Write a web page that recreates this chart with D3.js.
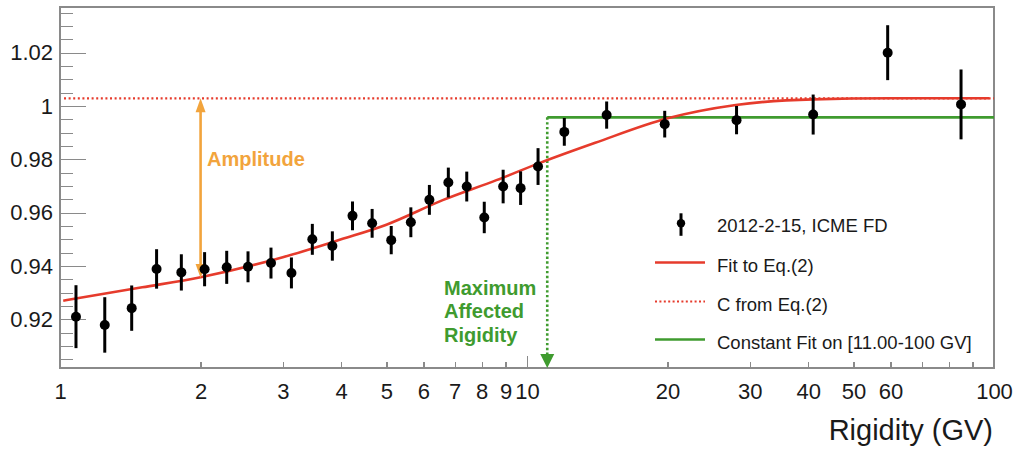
<!DOCTYPE html>
<meta charset="utf-8">
<style>
    body { margin: 0; background: #fff; }
    svg { font-family: "Liberation Sans", Arial, Helvetica, sans-serif; }
    .axis path, .axis line { stroke: #8a8a8a; stroke-width: 1.3; shape-rendering: crispEdges; }
    .axis text { font-size: 22px; fill: #1a1a1a; }
    .lbl { font-weight: bold; font-size: 20px; }
    .legend text { font-size: 18.5px; fill: #1a1a1a; }
</style>
<body>
<script src="https://d3js.org/d3.v7.min.js"></script>
<script>
    // data points
    const rigidity = [1.082, 1.247, 1.424, 1.61, 1.819, 2.04, 2.275, 2.527, 2.83, 3.13, 3.47, 3.83, 4.23, 4.66, 5.12,
        5.64, 6.18, 6.785, 7.43, 8.1, 8.89, 9.69, 10.56, 12.02, 14.81, 19.72, 28.1, 41.0, 59.2, 85.0];
    const ratio = [0.921, 0.9179, 0.9242, 0.9389, 0.9376, 0.9388, 0.9395, 0.9397, 0.9411, 0.9374, 0.950, 0.9475, 0.9588,
        0.956, 0.9497, 0.9564, 0.9648, 0.9713, 0.9698, 0.9582, 0.9698, 0.9692, 0.9773, 0.9903, 0.9966, 0.9932, 0.9947,
        0.9968, 1.020, 1.0006];
    const ratioErr = [0.0118, 0.0104, 0.0085, 0.0074, 0.0068, 0.0064, 0.0062, 0.0058, 0.0058, 0.0058, 0.0058, 0.0055,
        0.0054, 0.0054, 0.0053, 0.0056, 0.0056, 0.0056, 0.0056, 0.0059, 0.0063, 0.0063, 0.0069, 0.0052, 0.0051, 0.005,
        0.0053, 0.0075, 0.0103, 0.0131];

    // fit curve, sampled from the figure
    const fitR = [1.016, 1.5, 2, 3, 4, 5, 6.6, 8.6, 10.6, 14, 20, 28, 41, 60, 97.7];
    const fitV = [0.927, 0.932, 0.9358, 0.9433, 0.950, 0.9555, 0.9647, 0.9722, 0.9785, 0.9862, 0.9954, 1.0004, 1.0025,
        1.0029, 1.0029];

    const cValue = 1.0029;
    const constFit = 0.99575;
    const constFrom = 11.05;
    const ampR = 2;
    const ampLow = 0.9355;

    const yMajor = [0.92, 0.94, 0.96, 0.98, 1, 1.02];
    const yMinor = [0.905, 0.91, 0.915, 0.925, 0.93, 0.935, 0.945, 0.95, 0.955, 0.965, 0.97, 0.975, 0.985, 0.99, 0.995,
        1.005, 1.01, 1.015, 1.025, 1.03, 1.035];
    const xTicks = [1, 2, 3, 4, 5, 6, 7, 8, 9, 10, 20, 30, 40, 50, 60, 70, 80, 90, 100];
    const xLabels = [1, 2, 3, 4, 5, 6, 7, 8, 9, 10, 20, 30, 40, 50, 60, 100];

    const legendLabels = ["2012-2-15, ICME FD", "Fit to Eq.(2)", "C from Eq.(2)", "Constant Fit on [11.00-100 GV]"];

    const red = "#e63b2c", orange = "#f2a43c", green = "#3f9b2f";

    const width = 1016, height = 451;
    const margin = {top: 7, right: 22, bottom: 83, left: 60};

    const svg = d3.select("body").append("svg")
        .attr("width", width)
        .attr("height", height);

    const x = d3.scaleLog().domain([1, 100]).range([margin.left, width - margin.right]);
    const y = d3.scaleLinear().domain([0.90175, 1.03713]).range([height - margin.bottom, margin.top]);

    // frame
    svg.append("rect")
        .attr("x", margin.left).attr("y", margin.top)
        .attr("width", x(100) - x(1)).attr("height", y(0.90175) - y(1.03713))
        .attr("fill", "none").attr("stroke", "#8a8a8a").attr("stroke-width", 1.3)
        .style("shape-rendering", "crispEdges");

    // y axis
    svg.append("g").attr("class", "axis")
        .attr("transform", "translate(" + margin.left + ",0)")
        .call(d3.axisLeft(y).tickValues(yMinor).tickSize(-13).tickSizeOuter(0).tickFormat(""));
    svg.append("g").attr("class", "axis")
        .attr("transform", "translate(" + margin.left + ",0)")
        .call(d3.axisLeft(y).tickValues(yMajor).tickSize(-26).tickSizeOuter(0).tickPadding(7)
            .tickFormat(d => d3.format("")(+d.toFixed(2))));

    // x axis
    const xAxis = svg.append("g").attr("class", "axis")
        .attr("transform", "translate(0," + y(0.90175) + ")")
        .call(d3.axisBottom(x).tickValues(xTicks).tickSize(-6).tickSizeOuter(0).tickPadding(15)
            .tickFormat(d => xLabels.includes(d) ? d : ""));
    xAxis.selectAll(".tick line").filter(d => d === 10).attr("y2", -12);
    xAxis.selectAll(".tick text").attr("dy", "0.71em");

    svg.append("text")
        .attr("x", 993).attr("y", 440)
        .attr("text-anchor", "end")
        .style("font-size", "29px").style("fill", "#1a1a1a")
        .text("Rigidity (GV)");

    // C line
    svg.append("line")
        .attr("x1", x(1.02)).attr("x2", x(100))
        .attr("y1", y(cValue)).attr("y2", y(cValue))
        .attr("stroke", red).attr("stroke-width", 2.2).attr("stroke-dasharray", "2,2.6");

    // constant fit
    svg.append("line")
        .attr("x1", x(constFrom)).attr("x2", x(100))
        .attr("y1", y(constFit)).attr("y2", y(constFit))
        .attr("stroke", green).attr("stroke-width", 2.6);

    // maximum affected rigidity arrow
    svg.append("line")
        .attr("x1", x(constFrom)).attr("x2", x(constFrom))
        .attr("y1", y(constFit)).attr("y2", y(0.90175) - 10)
        .attr("stroke", green).attr("stroke-width", 2.6).attr("stroke-dasharray", "2.4,2.4");
    const gx = x(constFrom), gy = y(0.90175);
    svg.append("path")
        .attr("d", `M${gx - 7},${gy - 14}L${gx + 7},${gy - 14}L${gx},${gy}Z`)
        .attr("fill", green);

    // fit curve
    const fitLine = d3.line()
        .x((d, i) => x(fitR[i]))
        .y(d => y(d))
        .curve(d3.curveMonotoneX);
    svg.append("path")
        .datum(fitV)
        .attr("d", fitLine)
        .attr("fill", "none").attr("stroke", red).attr("stroke-width", 2.6);

    // amplitude arrow
    const ax = x(ampR), aTop = y(cValue), aBot = y(ampLow);
    svg.append("line")
        .attr("x1", ax).attr("x2", ax)
        .attr("y1", aTop + 8).attr("y2", aBot - 8)
        .attr("stroke", orange).attr("stroke-width", 2.6);
    svg.append("path")
        .attr("d", `M${ax - 5},${aTop + 14}L${ax},${aTop}L${ax + 5},${aTop + 14}Z`)
        .attr("fill", orange);
    svg.append("path")
        .attr("d", `M${ax - 5},${aBot - 14}L${ax},${aBot}L${ax + 5},${aBot - 14}Z`)
        .attr("fill", orange);

    svg.append("text").attr("class", "lbl")
        .attr("x", 207).attr("y", 166)
        .attr("fill", orange)
        .text("Amplitude");

    const maxLbl = svg.append("text").attr("class", "lbl")
        .attr("x", 444).attr("y", 295)
        .attr("fill", green);
    ["Maximum", "Affected", "Rigidity"].forEach((t, i) => {
        maxLbl.append("tspan").attr("x", 444).attr("dy", i === 0 ? 0 : 23.3).text(t);
    });

    // data points
    const pts = svg.append("g").selectAll("g")
        .data(ratio)
        .enter().append("g");
    pts.append("line")
        .attr("x1", (d, i) => x(rigidity[i])).attr("x2", (d, i) => x(rigidity[i]))
        .attr("y1", (d, i) => y(d + ratioErr[i])).attr("y2", (d, i) => y(d - ratioErr[i]))
        .attr("stroke", "#000").attr("stroke-width", 3);
    pts.append("circle")
        .attr("cx", (d, i) => x(rigidity[i]))
        .attr("cy", d => y(d))
        .attr("r", 5)
        .attr("fill", "#000");

    // legend
    const legend = svg.append("g").attr("class", "legend");
    const rowY = [223.3, 262.5, 301.5, 339.5];
    legend.selectAll("text")
        .data(legendLabels)
        .enter().append("text")
        .attr("x", 717)
        .attr("y", (d, i) => rowY[i] + 9)
        .text(d => d);

    legend.append("line")
        .attr("x1", 681).attr("x2", 681).attr("y1", rowY[0] - 10).attr("y2", rowY[0] + 12.5)
        .attr("stroke", "#000").attr("stroke-width", 3);
    legend.append("circle").attr("cx", 681).attr("cy", rowY[0]).attr("r", 4.2).attr("fill", "#000");
    legend.append("line")
        .attr("x1", 655).attr("x2", 705).attr("y1", rowY[1]).attr("y2", rowY[1])
        .attr("stroke", red).attr("stroke-width", 2.6);
    legend.append("line")
        .attr("x1", 655).attr("x2", 705).attr("y1", rowY[2]).attr("y2", rowY[2])
        .attr("stroke", red).attr("stroke-width", 2).attr("stroke-dasharray", "2,2.4");
    legend.append("line")
        .attr("x1", 655).attr("x2", 705).attr("y1", rowY[3]).attr("y2", rowY[3])
        .attr("stroke", green).attr("stroke-width", 2.6);
</script>
</body>
</html>
